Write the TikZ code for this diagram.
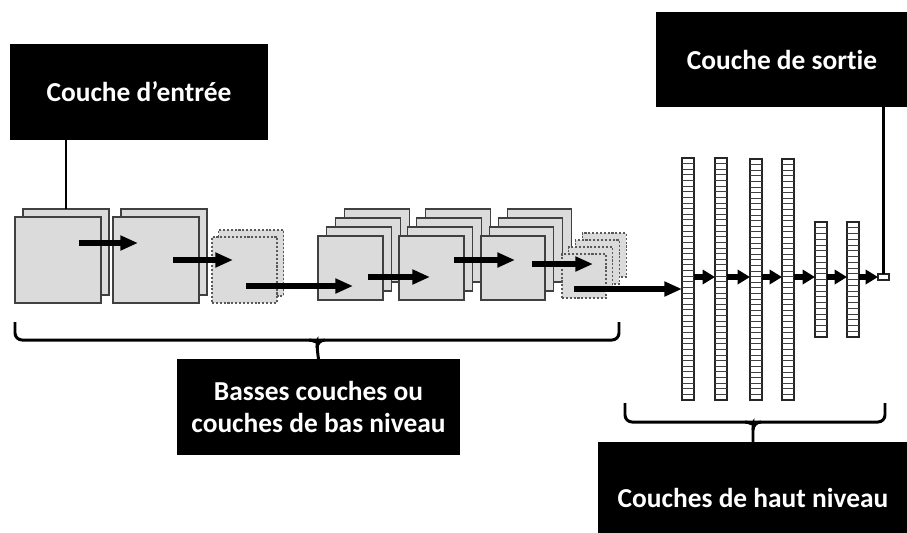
\documentclass[tikz,border=0pt]{standalone}
\usepackage{fontspec}
\setmainfont{Carlito}[Ligatures=NoCommon]
\usetikzlibrary{arrows.meta}

\newcommand{\pxu}{0.02cm}

\begin{document}
\begin{tikzpicture}[x=0.02cm,y=-0.02cm]
        \tikzstyle{every node}=[font=\bfseries\fontsize{15.6}{18}\selectfont]
        \tikzstyle{fmap}=[draw=black!75, fill=black!14, line width=0.6pt, inner sep=0pt, outer sep=0pt, anchor=north west]
        \tikzstyle{pool}=[fmap, draw=black!65, dash pattern=on 1.2pt off 1pt]
        \tikzstyle{column}=[draw=black!85, fill=white, line width=0.6pt, inner sep=0pt, outer sep=0pt, anchor=north west, minimum width={12*\pxu}]
        \tikzstyle{cell}=[draw=black!75, line width=0.55pt]
        \tikzstyle{label}=[fill=black, text=white, align=center, inner sep=0pt, outer sep=0pt, anchor=north west]
        \tikzstyle{wire}=[line width=1.6pt]
        \tikzstyle{brace}=[line width=1.7pt, rounded corners=4pt]
        \tikzstyle{fatarrow}=[line width=3.4pt, -{Triangle[length=10pt,width=8pt]}]
        \tikzstyle{densearrow}=[line width=3pt, -{Triangle[length=7pt,width=8pt]}]

        \path[use as bounding box, clip] (0,0) rectangle (907,532);

        % labels
        \node[label, minimum width={258*\pxu}, minimum height={96*\pxu}] (entree) at (10,44) {Couche d’entrée};
        \node[label, minimum width={252*\pxu}, minimum height={95*\pxu}] (sortie) at (656,12) {Couche de sortie};
        \node[label, minimum width={283*\pxu}, minimum height={96*\pxu}] (basses) at (177,359) {Basses couches ou\\couches de bas niveau};
        \node[label, minimum width={310*\pxu}, minimum height={112*\pxu}] (haut) at (598,442) {Couches de haut niveau};

        % low level feature maps
        \foreach \k in {1,0}
            \node[fmap, minimum width={86*\pxu}, minimum height={86*\pxu}] (in\k) at ({15+8*\k},{217-8*\k}) {};
        \foreach \k in {1,0}
            \node[fmap, minimum width={86*\pxu}, minimum height={86*\pxu}] (convA\k) at ({113+8*\k},{217-8*\k}) {};
        \foreach \k in {1,0}
            \node[pool, minimum width={65*\pxu}, minimum height={66*\pxu}] (poolA\k) at ({212+6.5*\k},{237-7*\k}) {};
        \foreach \k in {3,2,1,0}
            \node[fmap, minimum width={65*\pxu}, minimum height={64*\pxu}] (convB\k) at ({318+8.7*\k},{236-9*\k}) {};
        \foreach \k in {3,2,1,0}
            \node[fmap, minimum width={65*\pxu}, minimum height={64*\pxu}] (convC\k) at ({399+8.7*\k},{236-9*\k}) {};
        \foreach \k in {3,2,1,0}
            \node[fmap, minimum width={64*\pxu}, minimum height={64*\pxu}] (convD\k) at ({481+8.7*\k},{236-9*\k}) {};
        \foreach \k in {3,2,1,0}
            \node[pool, minimum width={44*\pxu}, minimum height={44*\pxu}] (poolB\k) at ({562+6.7*\k},{254-7*\k}) {};

        % high level layers
        \foreach \i/\cx/\ty/\by/\n in {1/682/158/400/43, 2/715/158/400/43, 3/750/159/400/43,
                                       4/782/159/400/43, 5/815/222/337/20, 6/847/222/337/20} {
            \node[column, minimum height={(\by-\ty)*\pxu}] (col\i) at (\cx,\ty) {};
            \pgfmathtruncatemacro{\m}{\n-1}
            \foreach \j in {1,...,\m}
                \draw[cell] (\cx,{\ty+\j*(\by-\ty)/\n}) -- ++(12,0);
        }
        \node[column, minimum width={11*\pxu}, minimum height={6*\pxu}] (outcell) at (878,274) {};

        % wires to labels
        \draw[wire] (in1.north) -- (in1.north |- entree.south);
        \draw[wire] (outcell.north) -- (outcell.north |- sortie.south);

        % arrows
        \foreach \n/\xa/\xb/\y in {1/79/138/243, 2/173/233/260, 3/246/353/286, 4/368/430/277,
                                   5/454/515/260, 6/532/593/264} {
            \coordinate (a\n s) at (\xa,\y);
            \coordinate (a\n e) at (\xb,\y);
            \draw[fatarrow] (a\n s) -- (a\n e);
        }
        \coordinate (a7s) at (574,289);
        \draw[fatarrow] (a7s) -- (col1.west |- a7s);
        \foreach \a/\b in {col1/col2, col2/col3, col3/col4, col4/col5, col5/col6, col6/outcell}
            \draw[densearrow] (\a.east |- outcell) -- (\b.west |- outcell);

        % braces
        \draw[brace] (15,322) |- (619,340) -- (619,322);
        \draw[brace] (309,340) to[out=0,in=90] (317,348) -- (basses.north);
        \draw[brace] (325,340) to[out=180,in=90] (317,348);
        \draw[brace] (625,403) |- (885,422) -- (885,403);
        \draw[brace] (745,422) to[out=0,in=90] (753,430) -- (haut.north);
        \draw[brace] (761,422) to[out=180,in=90] (753,430);
\end{tikzpicture}
\end{document}
